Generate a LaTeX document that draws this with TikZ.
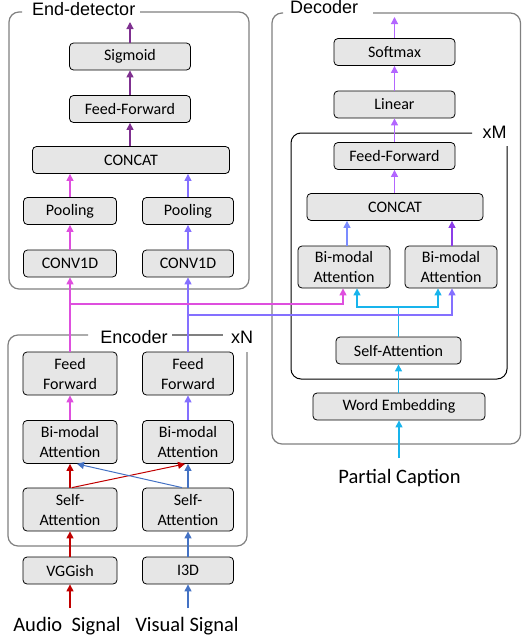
\documentclass[tikz,border=0pt]{standalone}
\usepackage{fontspec}
\setmainfont{Carlito}
\newfontfamily\labfont{Liberation Sans}
\usetikzlibrary{arrows.meta}
\definecolor{boxfill}{HTML}{E6E6E6}
\definecolor{framegray}{HTML}{808080}
\definecolor{edpurple}{HTML}{7F3090}
\definecolor{magentaA}{HTML}{DE4FDE}
\definecolor{violetA}{HTML}{8470FF}
\definecolor{lavA}{HTML}{B366FF}
\definecolor{bluishA}{HTML}{7B8CFF}
\definecolor{purpleB}{HTML}{8B3DE8}
\definecolor{cyanA}{HTML}{18B4EC}
\definecolor{redA}{HTML}{C00000}
\definecolor{blueA}{HTML}{4472C4}
\tikzset{
  blk/.style={draw=black, fill=boxfill, line width=0.8pt, rounded corners=4pt,
    inner sep=0pt, align=center, font=\fontsize{16}{20}\selectfont},
  oneline/.style={minimum height=27pt},
  twoline/.style={minimum height=43pt},
  frame/.style={draw=framegray, line width=1.2pt, rounded corners=10pt},
  inframe/.style={draw=black, line width=1pt, rounded corners=10pt},
  flab/.style={font=\labfont\fontsize{18}{18}\selectfont, inner sep=0pt},
  big/.style={font=\fontsize{20.5}{22}\selectfont, inner sep=0pt},
  arr/.style={line width=1.2pt, -{Triangle[width=7pt,length=7pt]}},
  ln/.style={line width=1.2pt},
}
\begin{document}
\begin{tikzpicture}[x=1pt,y=-1pt]
\useasboundingbox (0,0) rectangle (522,643);

% ---------------- frames ----------------
\draw[frame] (140,12) -- (249,12) -- (249,289) -- (9,289) -- (9,12) -- (22,12);
\node[flab, anchor=base west] (edlab) at (32,15.5) {End-detector};

\draw[frame] (373,13) -- (520.5,13) -- (520.5,444) -- (272,444) -- (272,13) -- (283,13);
\node[flab, anchor=base west] (declab) at (290,13.5) {Decoder};

\draw[inframe] (507,146) -- (507,379) -- (291,379) -- (291,133) -- (472,133);
\node[flab] (xm) at (494.5,132.5) {xM};

\draw[frame] (247,352) -- (247,546) -- (8,546) -- (8,335) -- (88,335);
\draw[frame] (172,335) -- (223,335);
\node[flab] (enclab) at (134,337) {Encoder};
\node[flab] (xn) at (242,337) {xN};

% ---------------- end-detector ----------------
\node[blk, oneline, minimum width=121pt] (sig) at (130,56.5) {Sigmoid};
\node[blk, oneline, minimum width=121pt] (edff) at (130,109) {Feed-Forward};
\node[blk, oneline, minimum width=197pt] (edcat) at (131,160) {CONCAT};
\node[blk, oneline, minimum width=93pt] (poolL) at (70,211) {Pooling};
\node[blk, oneline, minimum width=91pt] (poolR) at (188,211) {Pooling};
\node[blk, oneline, minimum width=93pt] (convL) at (70,263.5) {CONV1D};
\node[blk, oneline, minimum width=91pt] (convR) at (188,263.5) {CONV1D};
\coordinate (edout) at (130,22);

\draw[arr, edpurple] (sig.north) -- (edout);
\draw[arr, edpurple] (edff.north) -- (sig.south);
\draw[arr, edpurple] (edcat.north -| edff) -- (edff.south);
\draw[arr, magentaA] (poolL.north) -- (poolL.north |- edcat.south);
\draw[arr, violetA] (poolR.north) -- (poolR.north |- edcat.south);
\draw[arr, magentaA] (convL.north) -- (poolL.south);
\draw[arr, violetA] (convR.north) -- (poolR.south);

% ---------------- encoder ----------------
\node[blk, twoline, minimum width=94pt] (ffL) at (70,373.5) {Feed\\Forward};
\node[blk, twoline, minimum width=91pt] (ffR) at (188,373.5) {Feed\\Forward};
\node[blk, twoline, minimum width=94pt] (bmL) at (70,442) {Bi-modal\\Attention};
\node[blk, twoline, minimum width=91pt] (bmR) at (188,442) {Bi-modal\\Attention};
\node[blk, twoline, minimum width=94pt] (saL) at (70,509.5) {Self-\\Attention};
\node[blk, twoline, minimum width=91pt] (saR) at (188,509.5) {Self-\\Attention};
\node[blk, oneline, minimum width=94pt] (vgg) at (70,570.5) {VGGish};
\node[blk, oneline, minimum width=91pt] (i3d) at (188,570.5) {I3D};
\node[big] (audio) at (67,626) {Audio\ \ Signal};
\node[big] (visual) at (187,626) {Visual Signal};
\coordinate (audtop) at (70,608);
\coordinate (vistop) at (188,608);

\draw[arr, redA] (audtop) -- (vgg.south);
\draw[arr, blueA] (vistop) -- (i3d.south);
\draw[arr, redA] (vgg.north) -- (saL.south);
\draw[arr, blueA] (i3d.north) -- (saR.south);
\draw[arr, redA] (saL.north) -- (bmL.south);
\draw[arr, blueA] (saR.north) -- (bmR.south);
\draw[arr, redA, line width=1pt] ([xshift=2pt]saL.north) -- ([xshift=-3pt]bmR.south);
\draw[arr, blueA, line width=1pt] ([xshift=-6pt]saR.north) -- ([xshift=7pt]bmL.south);
\draw[arr, magentaA] (bmL.north) -- (ffL.south);
\draw[arr, violetA] (bmR.north) -- (ffR.south);
\draw[arr, magentaA] (ffL.north) -- (convL.south);
\draw[arr, violetA] (ffR.north) -- (convR.south);

% ---------------- decoder ----------------
\node[blk, oneline, minimum width=121pt] (soft) at (394.5,52) {Softmax};
\node[blk, oneline, minimum width=121pt] (lin) at (394.5,104.5) {Linear};
\node[blk, oneline, minimum width=121pt] (dff) at (394.5,156) {Feed-Forward};
\node[blk, oneline, minimum width=176pt] (dcat) at (395,207) {CONCAT};
\node[blk, twoline, minimum width=92pt, minimum height=42pt] (dbmL) at (344,267) {Bi-modal\\Attention};
\node[blk, twoline, minimum width=92pt, minimum height=42pt] (dbmR) at (451,267) {Bi-modal\\Attention};
\node[blk, oneline, minimum width=125pt] (dsa) at (398.5,350.5) {Self-Attention};
\node[blk, oneline, minimum width=172pt] (wemb) at (399,406.5) {Word Embedding};
\node[big] (cap) at (399.5,478) {Partial Caption};
\coordinate (captop) at (399,458);
\coordinate (decout) at (394.5,17);

\draw[arr, lavA] (soft.north) -- (decout);
\draw[arr, lavA] (lin.north) -- (soft.south);
\draw[arr, lavA] (dff.north) -- (lin.south);
\draw[arr, lavA] (dcat.north -| dff) -- (dff.south);
\draw[arr, bluishA] ([xshift=3pt]dbmL.north) -- ([xshift=3pt]dbmL.north |- dcat.south);
\draw[arr, purpleB] ([xshift=1pt]dbmR.north) -- ([xshift=1pt]dbmR.north |- dcat.south);
\draw[arr, cyanA] (captop) -- (wemb.south);
\draw[arr, cyanA] (wemb.north -| dsa) -- (dsa.south);

% self-attention split
\coordinate (split) at (398.5,307);
\draw[ln, cyanA] (dsa.north) -- (split);
\draw[arr, cyanA] (split) -| ([xshift=13pt]dbmL.south);
\draw[arr, cyanA] (split) -| ([xshift=-13pt]dbmR.south);

% encoder outputs to decoder
\coordinate (magL) at (70,304);
\coordinate (vioR) at (188,315);
\draw[arr, magentaA] (magL) -| ([xshift=-1pt]dbmL.south);
\draw[arr, violetA] (vioR) -| ([xshift=1pt]dbmR.south);
\end{tikzpicture}
\end{document}
